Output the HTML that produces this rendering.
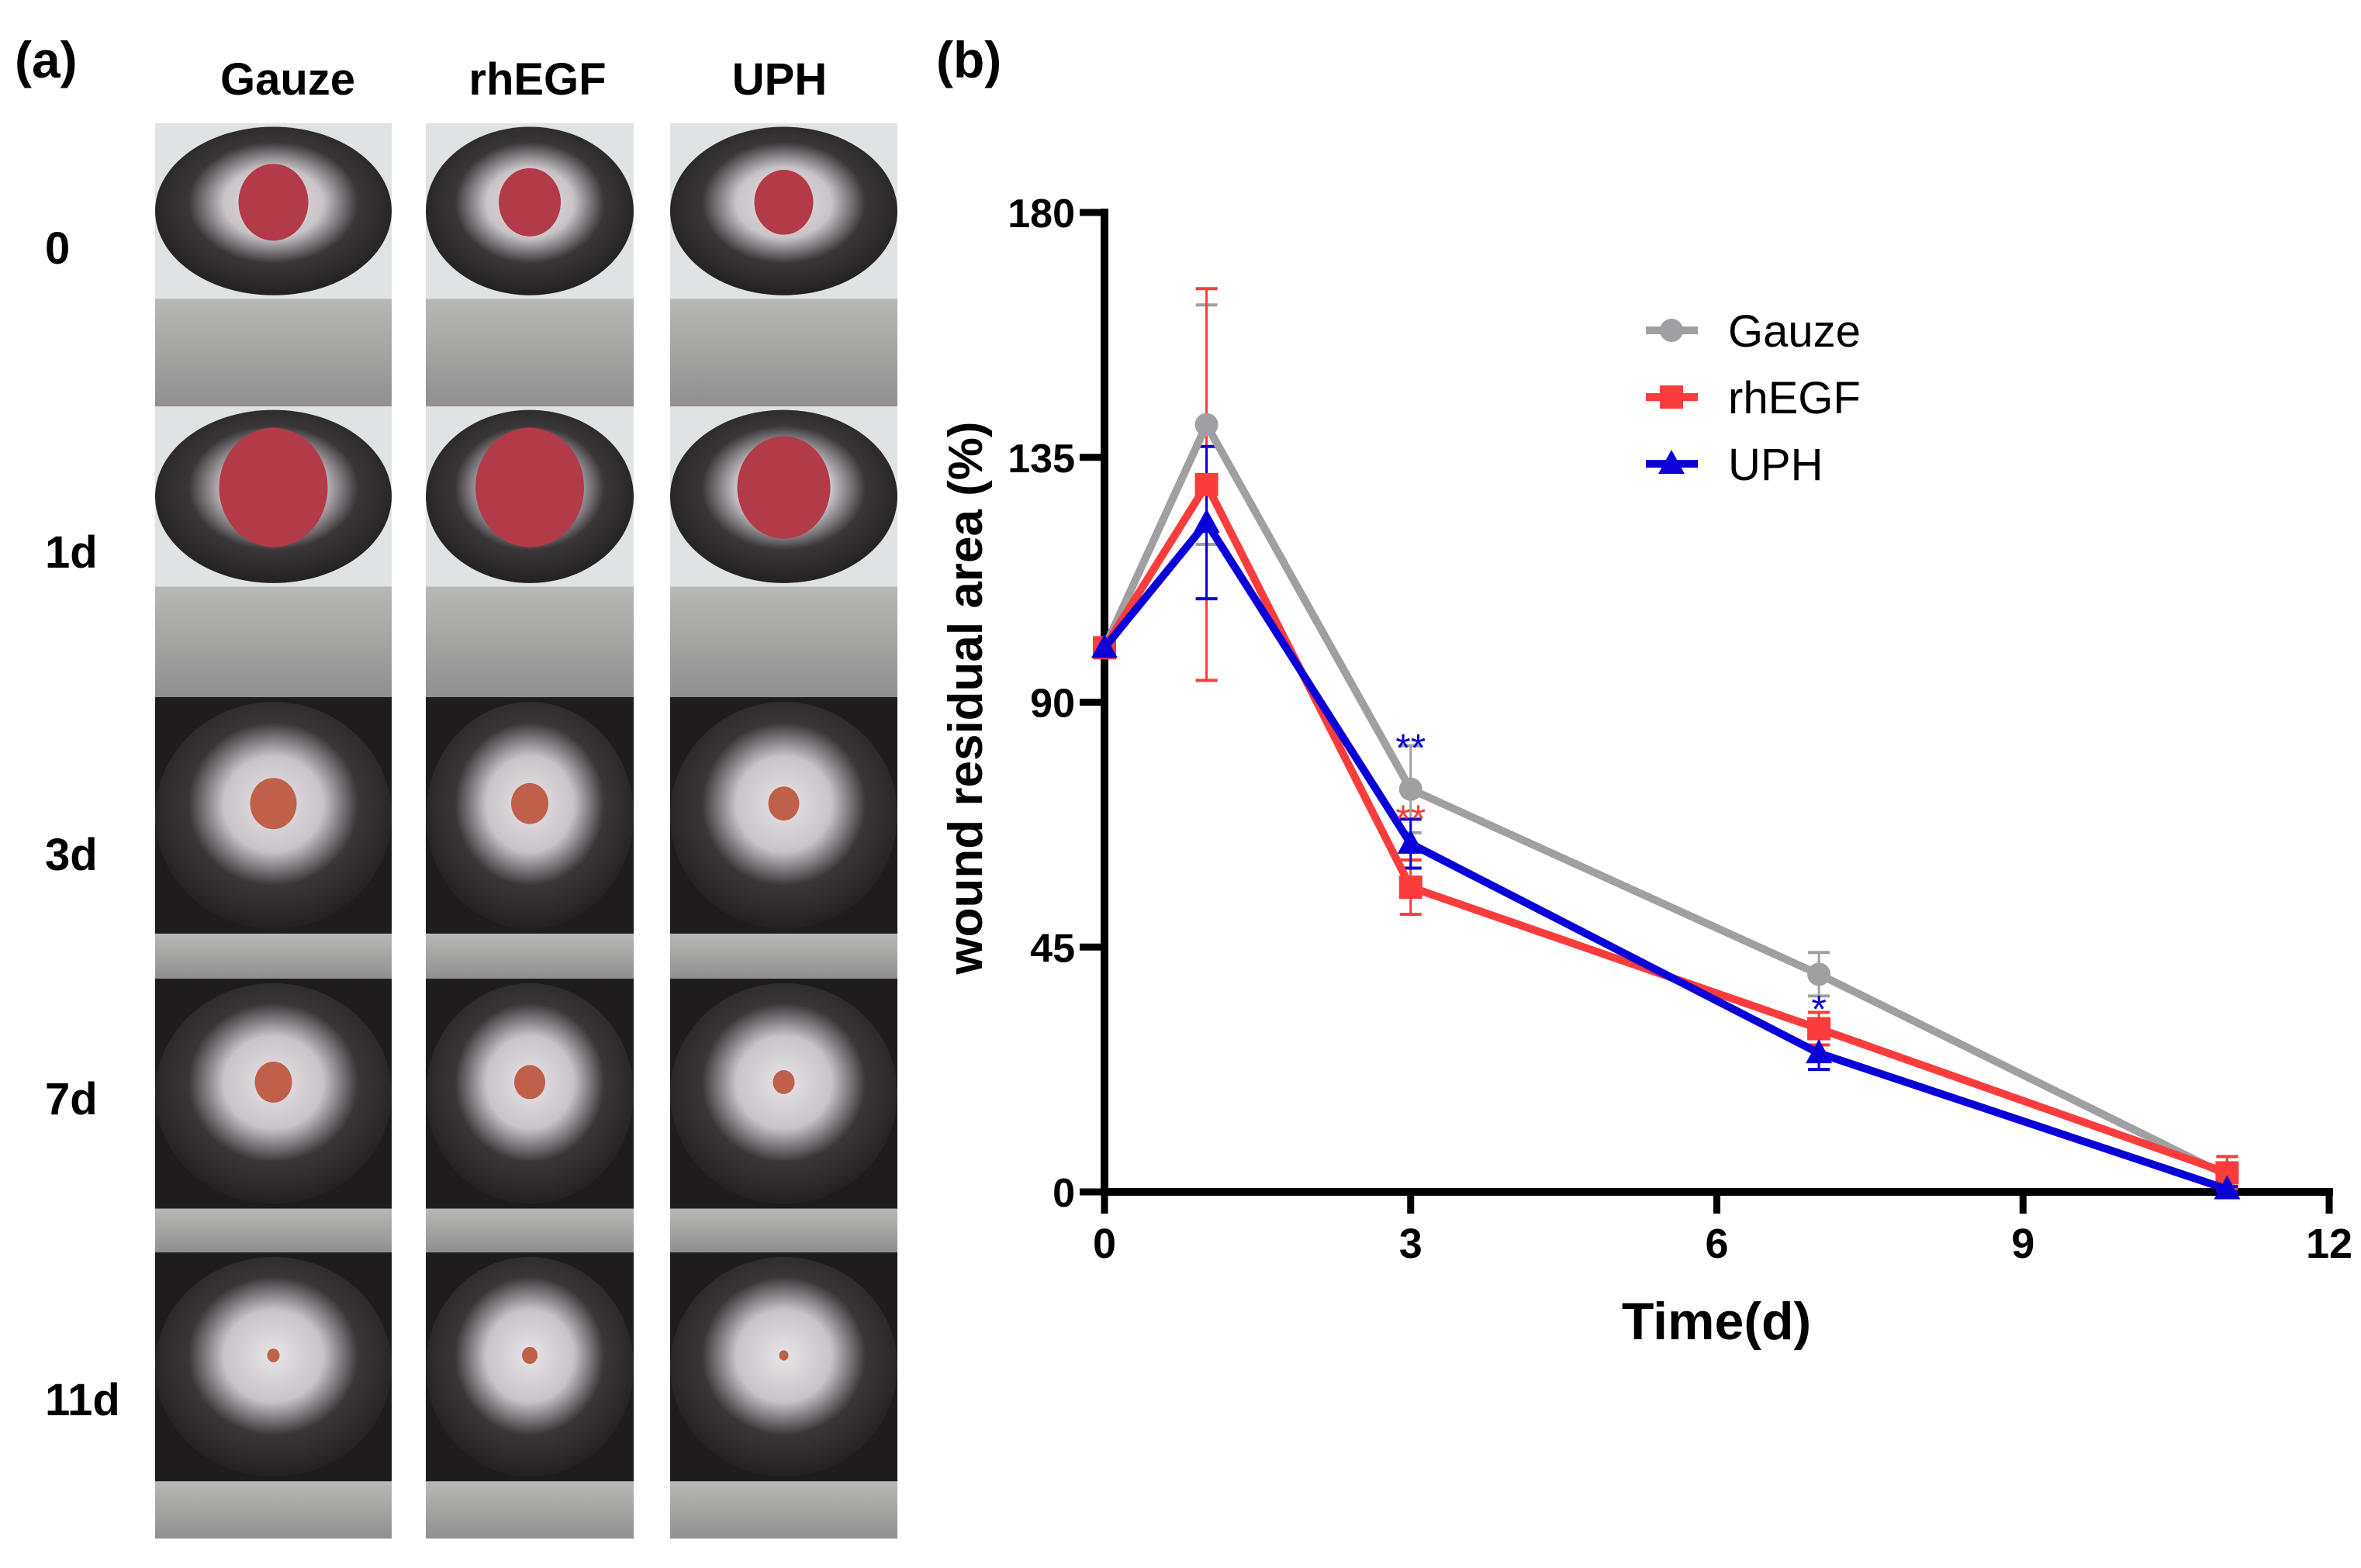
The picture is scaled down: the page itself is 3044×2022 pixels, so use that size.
<!DOCTYPE html>
<html><head><meta charset="utf-8"><style>
html,body{margin:0;padding:0;background:#fff;}
svg{display:block;}
text{font-family:"Liberation Sans",sans-serif;}
</style></head><body>
<svg id="fig" width="3044" height="2022" viewBox="0 0 3044 2022" xmlns="http://www.w3.org/2000/svg">
<defs>
<radialGradient id="fur" cx="50%" cy="45%" r="60%"><stop offset="0" stop-color="#e8e4e6"/><stop offset="0.35" stop-color="#c9c3c8"/><stop offset="0.6" stop-color="#3a3638"/><stop offset="1" stop-color="#1d1b1c"/></radialGradient>
<linearGradient id="ruler" x1="0" y1="0" x2="0" y2="1"><stop offset="0" stop-color="#b8b8b6"/><stop offset="1" stop-color="#8f908f"/></linearGradient>
</defs>
<g>
<text x="19" y="100" font-size="66" font-weight="bold">(a)</text>
<text x="371" y="122" font-size="58" font-weight="bold" text-anchor="middle">Gauze</text>
<text x="693" y="122" font-size="58" font-weight="bold" text-anchor="middle">rhEGF</text>
<text x="1005" y="122" font-size="58" font-weight="bold" text-anchor="middle">UPH</text>
<g id="photos"></g>
<text x="58" y="340" font-size="58" font-weight="bold">0</text>
<text x="58" y="732" font-size="58" font-weight="bold">1d</text>
<text x="58" y="1122" font-size="58" font-weight="bold">3d</text>
<text x="58" y="1437" font-size="58" font-weight="bold">7d</text>
<text x="58" y="1825" font-size="58" font-weight="bold">11d</text>
</g>
<g>
<text x="1207" y="100" font-size="66" font-weight="bold">(b)</text>
<g id="chart"></g>
<text transform="translate(1266,900) rotate(-90)" font-size="62" font-weight="bold" text-anchor="middle">wound residual area (%)</text>
<text x="2213" y="1727" font-size="68" font-weight="bold" text-anchor="middle">Time(d)</text>
</g>
</svg>
<script>
// ---- data ----
const days = [0, 1, 3, 7, 11];
const gauzeValues = [100, 141, 74, 40, 3];
const gauzeErrors = [0, 22, 8, 4, 1];
const rhegfValues = [100, 130, 56, 30, 3.5];
const rhegfErrors = [0, 36, 5, 3, 3];
const uphValues = [100, 123, 64, 25.5, 0.5];
const uphErrors = [0, 14, 4.5, 3, 0.5];
const xTicks = [0, 3, 6, 9, 12];
const yTicks = [0, 45, 90, 135, 180];
const seriesNames = ["Gauze", "rhEGF", "UPH"];
const sigLabels = [{day:3, value:82, text:"**", series:"UPH"}, {day:3, value:69, text:"**", series:"rhEGF"}, {day:7, value:34, text:"*", series:"UPH"}];

const NS = "http://www.w3.org/2000/svg";
const X0 = 1424, X1 = 3003, Y0 = 1537, Y1 = 274;
function xs(v){ return X0 + (v - 0) / 12 * (X1 - X0); }
function ys(v){ return Y0 - (v - 0) / 180 * (Y0 - Y1); }
function mk(tag, attrs, parent){ const e = document.createElementNS(NS, tag); for (const k in attrs) e.setAttribute(k, attrs[k]); parent.appendChild(e); return e; }

const chart = document.getElementById('chart');
const colors = {Gauze:"#a0a0a2", rhEGF:"#fb3c3c", UPH:"#0a00d8"};

let ax = mk('line', {x1:X0, y1:Y1-5, x2:X0, y2:Y0+5, stroke:'#000', 'stroke-width':10}, chart);


let axx = mk('line', {x1:X0-5, y1:Y0, x2:X1+5, y2:Y0, stroke:'#000', 'stroke-width':10}, chart);


yTicks.forEach(t => {
  const l = mk('line', {x1:X0-32, y1:ys(t), x2:X0, y2:ys(t), stroke:'#000', 'stroke-width':9}, chart);
  
  
  const tx = mk('text', {x:1386, y:ys(t)+19, 'font-size':52, 'font-weight':'bold', 'text-anchor':'end'}, chart);
  tx.textContent = t;
  
  
});
xTicks.forEach(t => {
  const l = mk('line', {x1:xs(t), y1:Y0, x2:xs(t), y2:Y0+28, stroke:'#000', 'stroke-width':9}, chart);
  
  
  const tx = mk('text', {x:xs(t), y:1622, 'font-size':54, 'font-weight':'bold', 'text-anchor':'middle'}, chart);
  tx.textContent = t;
  
  
});

const seriesData = [
  {name:"Gauze", vals:gauzeValues, errs:gauzeErrors, shape:'circle'},
  {name:"rhEGF", vals:rhegfValues, errs:rhegfErrors, shape:'square'},
  {name:"UPH", vals:uphValues, errs:uphErrors, shape:'triangle'}
];
function marker(shape, cx, cy, col, g){
  let m;
  if (shape === 'circle') m = mk('circle', {cx:cx, cy:cy, r:15, fill:col}, g);
  else if (shape === 'square') m = mk('rect', {x:cx-15, y:cy-15, width:30, height:30, fill:col}, g);
  else m = mk('polygon', {points:`${cx},${cy-18} ${cx+17},${cy+13} ${cx-17},${cy+13}`, fill:col}, g);
  return m;
}
seriesData.forEach(s => {
  const col = colors[s.name];
  const g = mk('g', {}, chart);
  
  
  days.forEach((d, i) => {
    if (!s.errs[i]) return;
    const x = xs(d), yt = ys(s.vals[i] + s.errs[i]), yb = ys(s.vals[i] - s.errs[i]);
    mk('line', {x1:x, y1:yt, x2:x, y2:yb, stroke:col, 'stroke-width':3}, g);
    mk('line', {x1:x-14, y1:yt, x2:x+14, y2:yt, stroke:col, 'stroke-width':4}, g);
    mk('line', {x1:x-14, y1:yb, x2:x+14, y2:yb, stroke:col, 'stroke-width':4}, g);
  });
});
seriesData.forEach(s => {
  const col = colors[s.name];
  const g = mk('g', {}, chart);
  
  
  const pts = days.map((d, i) => xs(d) + ',' + ys(s.vals[i])).join(' ');
  const pl = mk('polyline', {points:pts, fill:'none', stroke:col, 'stroke-width':10, 'stroke-linejoin':'miter'}, g);
  
  
  days.forEach((d, i) => {
    const m = marker(s.shape, xs(d), ys(s.vals[i]), col, g);
    
    
  });
});
sigLabels.forEach(sg => {
  const t = mk('text', {x:xs(sg.day), y:ys(sg.value)+20, 'font-size':50, 'text-anchor':'middle', fill:colors[sg.series]}, chart);
  t.textContent = sg.text;
  
  
});
const legY = [426, 512, 598];
seriesData.forEach((s, i) => {
  const col = colors[s.name];
  const g = mk('g', {}, chart);
  
  
  mk('line', {x1:2122, y1:legY[i], x2:2189, y2:legY[i], stroke:col, 'stroke-width':10}, g);
  marker(s.shape, 2155, legY[i], col, g);
  const t = mk('text', {x:2228, y:legY[i]+21, 'font-size':58}, g);
  t.textContent = s.name;
});

const photos = document.getElementById('photos');
const colsX = [[200,505],[549,817],[864,1157]];
const rowsY = [[159,524],[524,899],[899,1262],[1262,1615],[1615,1984]];
const woundR = [[45,40,38],[70,70,60],[30,24,20],[24,20,14],[8,10,6]];
rowsY.forEach((r, ri) => {
  colsX.forEach((c, ci) => {
    const g = mk('g', {}, photos);
    
    
    const w = c[1]-c[0], h = r[1]-r[0];
    const bg = ri < 2 ? '#dfe3e4' : '#1f1c1d';
    mk('rect', {x:c[0], y:r[0], width:w, height:h, fill:bg}, g);
    const rulerH = ri < 2 ? h*0.38 : (ri===4 ? h*0.2 : h*0.16);
    mk('rect', {x:c[0], y:r[1]-rulerH, width:w, height:rulerH, fill:'url(#ruler)'}, g);
    const fh = h - rulerH;
    mk('ellipse', {cx:c[0]+w/2, cy:r[0]+fh*0.5, rx:w*0.5, ry:fh*0.48, fill:'url(#fur)'}, g);
    const wr = woundR[ri][ci];
    mk('ellipse', {cx:c[0]+w/2, cy:r[0]+fh*0.45, rx:wr, ry:wr*1.1, fill: ri<2 ? '#b33a48' : '#c0604a'}, g);
  });
});
</script>
</body></html>
